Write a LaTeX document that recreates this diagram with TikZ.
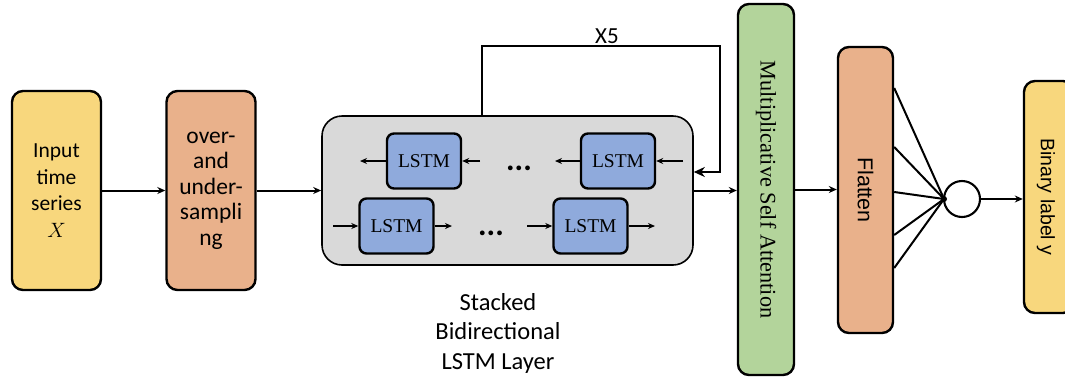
\documentclass[tikz,border=0pt]{standalone}
\usepackage{fontspec}
\setsansfont{Carlito}
\newfontfamily\arialf{Liberation Sans}
\newfontfamily\serf{Liberation Serif}
\usetikzlibrary{arrows.meta}
\definecolor{cyellow}{HTML}{F8D77D}
\definecolor{corange}{HTML}{E9B18B}
\definecolor{cgray}{HTML}{D9D9D9}
\definecolor{cblue}{HTML}{8FAADC}
\definecolor{cgreen}{HTML}{B3D49B}
\begin{document}
\begin{tikzpicture}[x=1pt,y=-1pt,
  blk/.style={draw=black,line width=2.4pt,rounded corners=11pt,inner sep=0pt,align=center},
  lstm/.style={draw=black,line width=2.4pt,rounded corners=7pt,fill=cblue,minimum width=74pt,minimum height=55pt,inner sep=0pt,font=\serf\fontsize{19.5}{20}\selectfont},
  arr/.style={line width=2pt,-{Stealth[length=8pt,width=7pt]}},
  sarr/.style={line width=2pt,-{Stealth[length=7pt,width=6pt]}},
  sans22/.style={font=\sffamily\fontsize{21.5}{26.7}\selectfont,align=center},
  dots/.style={font=\sffamily\bfseries\fontsize{32}{32}\selectfont,inner sep=0pt},
]
\useasboundingbox (0,0) rectangle (1065,376);
\fill[white] (0,0) rectangle (1065,376);

\node[blk,fill=cyellow,minimum width=89pt,minimum height=199pt,sans22] (inp) at (56.5,190.5) {Input\\time\\series\\$X$};
\node[blk,fill=corange,minimum width=89pt,minimum height=199pt,sans22,font=\sffamily\fontsize{23.5}{25.5}\selectfont] (ovs) at (211,190.5) {over-\\and\\under-\\sampli\\ng};
\node[blk,fill=cgray,line width=1.6pt,rounded corners=20pt,minimum width=371pt,minimum height=149pt] (gray) at (507.5,190.5) {};

\node[lstm] (l1) at (424,161) {LSTM};
\node[lstm] (l2) at (618,161) {LSTM};
\node[lstm] (l3) at (396.5,226) {LSTM};
\node[lstm] (l4) at (590.5,226) {LSTM};

\node[dots,anchor=base] (d1) at (519,170) {...};
\node[dots,anchor=base] (d2) at (491,235) {...};

\coordinate (a1) at (360,161);
\coordinate (a2) at (480,161);
\coordinate (a3) at (555,161);
\coordinate (a4) at (683,161);
\coordinate (b1) at (333,226);
\coordinate (b2) at (452,226);
\coordinate (b3) at (527,226);
\coordinate (b4) at (655,226);
\draw[sarr] (l1.west) -- (a1);
\draw[sarr] (a2) -- (l1.east);
\draw[sarr] (l2.west) -- (a3);
\draw[sarr] (a4) -- (l2.east);
\draw[sarr] (b1) -- (l3.west);
\draw[sarr] (l3.east) -- (b2);
\draw[sarr] (b3) -- (l4.west);
\draw[sarr] (l4.east) -- (b4);

\node[align=center,font=\sffamily\fontsize{24.5}{29.5}\selectfont] (lbl) at (498,333) {Stacked\\Bidirectional\\LSTM Layer};
\node[font=\sffamily\fontsize{23}{23}\selectfont] (x5) at (607,36) {X5};

\coordinate (fb1) at (482,46);
\coordinate (fb2) at (720,46);
\coordinate (fb3) at (720,172);
\draw[line width=2.1pt,-{Stealth[length=11pt,width=10pt]}] (gray.north -| fb1) -- (fb1) -- (fb2) -- (fb3) -- (gray.east |- fb3);

\node[blk,fill=cgreen,minimum width=56pt,minimum height=371pt] (att) at (766,189.5) {};
\node[rotate=-90,font=\serf\fontsize{22.3}{24}\selectfont] (attt) at (att.center) {Multiplicative Self Attention};
\node[blk,fill=corange,minimum width=55pt,minimum height=286pt] (fl) at (865.5,190) {};
\node[rotate=-90,font=\arialf\fontsize{21.5}{22}\selectfont] (flt) at (fl.center) {Flatten};
\node[draw=black,line width=2.1pt,circle,minimum size=36pt,inner sep=0pt,fill=white] (circ) at (962,199) {};
\node[blk,fill=cyellow,minimum width=50pt,minimum height=232pt] (bin) at (1049,197) {};
\node[rotate=-90,font=\arialf\fontsize{19.5}{20}\selectfont] (bint) at (1046,197) {Binary label y};

\draw[arr] (inp.east) -- (ovs.west);
\draw[arr] (ovs.east) -- (gray.west);
\draw[arr] (gray.east) -- (att.west |- gray.east);
\draw[arr] (att.east) -- (fl.west |- att.east);

\coordinate (hub) at (944,199);
\foreach \yy in {88,147,192,235,268} {
  \draw[line width=2pt] (fl.east |- 0,\yy) -- (hub);
}
\fill (hub) circle (3pt);
\draw[arr] (circ.east) -- (bin.west |- circ.east);
\end{tikzpicture}
\end{document}
